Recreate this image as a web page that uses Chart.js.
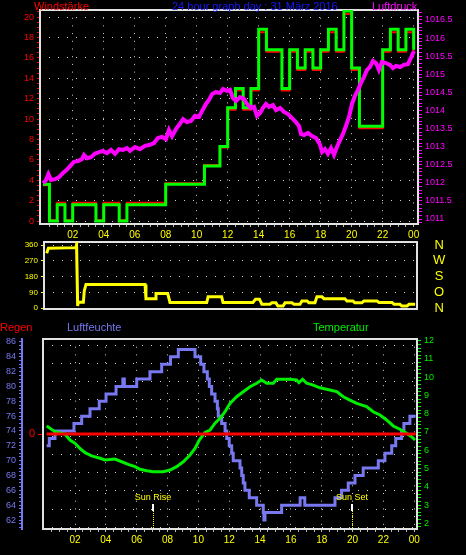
<!DOCTYPE html>
<html>
<head>
<meta charset="utf-8">
<title>24 hour graph day : 31 März 2016</title>
<script src="https://cdn.jsdelivr.net/npm/chart.js@4.4.1/dist/chart.umd.min.js"></script>
<style>
  body { margin: 0; background: #000; }
  #page { position: relative; width: 466px; height: 555px; background: #000; overflow: hidden;
          font-family: 'Liberation Sans', Arial, sans-serif; }
  #page canvas { position: absolute; left: 0; }
  .lbl { position: absolute; font-size: 11px; line-height: 12px; white-space: nowrap; }
</style>
</head>
<body>
<div id="page">
  <canvas id="top" width="466" height="248" style="top:0"></canvas>
  <canvas id="mid" width="466" height="80" style="top:236px"></canvas>
  <canvas id="bot" width="466" height="218" style="top:337px"></canvas>
  <div class="lbl" style="left:34px;top:0;color:#ff0000">Windstärke</div>
  <div class="lbl" style="left:172px;top:0;color:#1818ff">24 hour graph day : 31 März 2016</div>
  <div class="lbl" style="left:372px;top:0;color:#ff00ff">Luftdruck</div>
  <div class="lbl" style="left:0;top:321px;color:#ff0000">Regen</div>
  <div class="lbl" style="left:67px;top:321px;color:#7878f0">Luftfeuchte</div>
  <div class="lbl" style="left:313px;top:321px;color:#00ee00">Temperatur</div>
</div>
<script>
var FONT = "'Liberation Sans', Arial, sans-serif";
var GRID = '#d0d0d0';
var FRAME = '#e2e2e2';
var CLEAR = 'rgba(0,0,0,0)';

// x axis (hours)
var hourTicks = [2, 4, 6, 8, 10, 12, 14, 16, 18, 20, 22, 24];
var hourLabels = ['02', '04', '06', '08', '10', '12', '14', '16', '18', '20', '22', '00'];

// wind, half-hour values (green = gusts, red = mean)
var windTimes = [0.08, 0.5, 1, 1.5, 2, 2.5, 3, 3.5, 4, 4.5, 5, 5.5, 6, 6.5, 7, 7.5, 8, 8.5, 9, 9.5,
  10, 10.5, 11, 11.5, 12, 12.5, 13, 13.5, 14, 14.5, 15, 15.5, 16, 16.5, 17, 17.5, 18, 18.5, 19, 19.5,
  20, 20.5, 21, 21.5, 22, 22.5, 23, 23.5, 24];
var windGust = [3.6, 0, 1.6, 0, 1.6, 1.6, 1.6, 0, 1.6, 1.6, 0, 1.6, 1.6, 1.6, 1.6, 1.6, 3.6, 3.6, 3.6, 3.6,
  3.6, 5.4, 5.4, 7.3, 11.1, 13.0, 11.1, 13.0, 18.8, 16.8, 16.8, 13.0, 16.8, 15.0, 16.8, 15.0, 16.8, 18.8, 16.8, 20.6,
  15.0, 9.3, 9.3, 9.3, 16.8, 18.8, 16.8, 18.8, 16.8];
var windAvg = [3.5, 0.1, 1.8, 0.1, 1.8, 1.8, 1.8, 0.1, 1.8, 1.8, 0.1, 1.8, 1.8, 1.8, 1.8, 1.8, 3.7, 3.7, 3.7, 3.7,
  3.7, 5.5, 5.5, 7.2, 10.9, 12.8, 10.9, 12.8, 18.5, 16.6, 16.6, 12.8, 16.6, 14.8, 16.6, 14.8, 16.6, 18.5, 16.6, 20.3,
  14.8, 9.1, 9.1, 9.1, 16.6, 18.5, 16.6, 18.5, 16.6];
var windTicks = [0, 2, 4, 6, 8, 10, 12, 14, 16, 18, 20];

// air pressure
var pressTimes = [0.10, 0.28, 0.43, 0.6, 0.86, 1.12, 1.37, 1.6, 1.83, 2.08,
  2.34, 2.6, 2.73, 2.92, 3.18, 3.44, 3.7, 3.95, 4.21, 4.47,
  4.73, 4.99, 5.25, 5.5, 5.7, 6.02, 6.34, 6.66, 6.99, 7.24,
  7.5, 7.76, 8.02, 8.21, 8.41, 8.67, 8.92, 9.12, 9.37, 9.63,
  9.89, 10.15, 10.34, 10.6, 10.79, 10.99, 11.24, 11.5, 11.7, 11.95,
  12.15, 12.34, 12.54, 12.79, 13.05, 13.25, 13.5, 13.7, 13.89, 14.09,
  14.28, 14.47, 14.67, 14.92, 15.12, 15.38, 15.63, 15.89, 16.15, 16.4,
  16.6, 16.73, 16.92, 17.18, 17.44, 17.7, 17.96, 18.09, 18.28, 18.47,
  18.67, 18.86, 19.05, 19.25, 19.44, 19.63, 19.83, 20.02, 20.21, 20.41,
  20.6, 20.79, 20.99, 21.18, 21.37, 21.57, 21.76, 21.95, 22.21, 22.47,
  22.66, 22.86, 23.12, 23.37, 23.63, 23.82, 24.02];
var pressValues = [1011.99, 1012.08, 1012.24, 1012.08, 1012.1, 1012.16, 1012.27, 1012.35, 1012.46, 1012.58,
  1012.6, 1012.66, 1012.77, 1012.68, 1012.71, 1012.81, 1012.85, 1012.88, 1012.82, 1012.91,
  1012.8, 1012.93, 1012.91, 1012.96, 1012.88, 1012.99, 1012.93, 1013.02, 1013.05, 1013.1,
  1013.24, 1013.27, 1013.21, 1013.46, 1013.29, 1013.49, 1013.63, 1013.76, 1013.68, 1013.71,
  1013.85, 1013.82, 1013.98, 1014.18, 1014.29, 1014.45, 1014.51, 1014.48, 1014.59, 1014.54,
  1014.57, 1014.34, 1014.26, 1014.37, 1014.32, 1014.18, 1014.07, 1014.1, 1013.85, 1013.93,
  1014.07, 1014.18, 1014.1, 1014.15, 1014.01, 1014.07, 1013.96, 1013.9, 1013.79, 1013.68,
  1013.57, 1013.35, 1013.32, 1013.38, 1013.29, 1013.24, 1013.05, 1012.85, 1012.93, 1012.8,
  1012.96, 1012.77, 1012.99, 1013.18, 1013.35, 1013.57, 1013.82, 1014.18, 1014.4, 1014.57,
  1014.76, 1014.92, 1015.12, 1015.2, 1015.37, 1015.31, 1015.12, 1015.34, 1015.31, 1015.26,
  1015.17, 1015.23, 1015.2, 1015.26, 1015.28, 1015.45, 1015.64];
var pressTicks = [1011, 1011.5, 1012, 1012.5, 1013, 1013.5, 1014, 1014.5, 1015, 1015.5, 1016, 1016.5];
var pressLabels = ['1011', '1011.5', '1012', '1012.5', '1013', '1013.5', '1014', '1014.5', '1015', '1015.5', '1016', '1016.5'];

// wind direction
var dirTimes = [0.16, 0.27, 2.06, 2.1, 2.17, 2.21, 2.54, 2.6, 2.71, 6.54,
  6.6, 7.19, 7.25, 8.01, 8.16, 10.54, 10.63, 11.51, 11.6, 13.54,
  13.71, 13.96, 14.12, 14.64, 14.77, 15.03, 15.16, 15.49, 15.62, 16.07,
  16.2, 16.59, 16.72, 17.05, 17.17, 17.56, 17.69, 18.02, 18.14, 19.5,
  19.64, 20.02, 20.15, 20.6, 20.74, 21.58, 21.71, 22.56, 22.69, 23.07,
  23.2, 23.53, 23.66, 24.06];
var dirValues = [313, 341, 345, 362, 13, 34, 34, 100, 135, 135,
  55, 55, 84, 84, 33, 33, 65, 65, 33, 33,
  52, 52, 23, 23, 31, 31, 13, 13, 31, 31,
  23, 23, 42, 42, 31, 31, 65, 65, 55, 55,
  42, 42, 31, 31, 42, 42, 33, 33, 23, 23,
  13, 13, 23, 23];
var dirTicks = [0, 90, 180, 270, 360];
var compassLabels = ['N', 'O', 'S', 'W', 'N'];

// humidity
var humTimes = [0.16, 0.33, 0.7, 1.93, 2.43, 2.97, 3.57, 4.01, 4.66, 5.1,
  5.2, 6.0, 6.86, 7.62, 8.19, 8.7, 9.78, 10.15, 10.36, 10.58,
  10.71, 10.86, 11.08, 11.23, 11.29, 11.51, 11.73, 11.84, 12.0, 12.16,
  12.26, 12.7, 12.81, 12.91, 13.02, 13.3, 13.78, 14.21, 14.25, 14.32,
  15.4, 16.6, 16.9, 18.86, 19.29, 19.72, 20.16, 20.69, 21.67, 22.1,
  22.54, 22.8, 23.18, 23.33, 23.72, 24.09];
var humValues = [72, 73, 74, 75, 76, 77, 78, 79, 80, 81,
  80, 81, 82, 83, 84, 85, 84, 83, 82, 81,
  80, 79, 78, 77, 76, 75, 74, 73, 72, 71,
  70, 69, 68, 67, 66, 65, 64, 63, 62, 63,
  64, 65, 64, 65, 66, 67, 68, 69, 70, 71,
  72, 73, 74, 75, 76, 76];
var humTicks = [62, 64, 66, 68, 70, 72, 74, 76, 78, 80, 82, 84, 86];

// temperature
var tempTimes = [0.16, 0.7, 1.35, 1.67, 2.0, 2.32, 2.65, 3.08, 3.62, 3.94,
  4.27, 4.59, 5.03, 5.45, 5.89, 6.21, 6.65, 7.08, 7.72, 8.16,
  8.59, 9.02, 9.46, 9.78, 10.06, 10.43, 10.76, 11.08, 11.4, 11.73,
  12.05, 12.48, 12.91, 13.35, 13.78, 14.1, 14.43, 14.86, 15.08, 15.94,
  16.37, 16.52, 16.76, 17.02, 17.45, 17.89, 18.53, 18.97, 19.4, 19.83,
  20.27, 20.91, 21.34, 21.78, 22.21, 22.64, 23.07, 23.51, 23.83, 24.05];
var tempValues = [7.33, 7.02, 6.89, 6.56, 6.38, 6.1, 5.87, 5.69, 5.56, 5.47,
  5.5, 5.52, 5.37, 5.23, 5.1, 4.96, 4.88, 4.83, 4.83, 4.92,
  5.1, 5.37, 5.74, 6.1, 6.56, 6.98, 7.11, 7.48, 7.75, 8.11,
  8.57, 8.93, 9.2, 9.48, 9.67, 9.85, 9.67, 9.67, 9.89, 9.89,
  9.85, 9.7, 9.89, 9.67, 9.57, 9.42, 9.3, 9.21, 8.93, 8.75,
  8.57, 8.39, 8.11, 7.93, 7.66, 7.33, 7.15, 6.93, 6.74, 6.56];
var tempTicks = [2, 3, 4, 5, 6, 7, 8, 9, 10, 11, 12];

// rain
var rainTimes = [0.16, 24.1];
var rainValues = [0, 0];
var rainTicks = [0];

// sun
var sunNames = ['Sun Rise', 'Sun Set'];
var sunTimes = [7.08, 19.98];

Chart.defaults.font.family = FONT;
Chart.defaults.color = '#ffffff';

function steps(lo, hi, step) {
  var out = [];
  for (var v = lo; v <= hi + 1e-9; v += step) out.push({ value: Math.round(v * 1000) / 1000 });
  return out;
}
function idx(v, vals) {
  for (var i = 0; i < vals.length; i++) if (Math.abs(vals[i] - v) < 1e-6) return i;
  return -1;
}
function pts(xs, ys) {
  return xs.map(function (x, i) { return { x: x, y: ys[i] }; });
}
function fixW(w) {
  return function (s) { s.width = w; s.paddingTop = 0; s.paddingBottom = 0; };
}
function fixH(h) {
  return function (s) { s.height = h; s.paddingLeft = 0; s.paddingRight = 0; };
}
function onMajor(vals) {
  return function (c) { return (c.tick && idx(c.tick.value, vals) >= 0) ? GRID : CLEAR; };
}

function hourAxis(min, max, h) {
  return {
    type: 'linear', min: min, max: max, display: h > 0,
    afterBuildTicks: function (s) { s.ticks = steps(0.5, 24, 0.5); },
    afterFit: fixH(h),
    ticks: {
      color: '#ffff00', font: { size: 10 }, padding: 2, autoSkip: false, maxRotation: 0, minRotation: 0,
      callback: function (v) { var i = idx(v, hourTicks); return i < 0 ? '' : hourLabels[i]; }
    },
    grid: { color: onMajor(hourTicks), tickColor: '#b8b8b8', tickLength: 3, lineWidth: 1 },
    border: { display: false, dash: [1, 6.7] }
  };
}

var framePlugin = {
  id: 'frame',
  beforeDatasetsDraw: function (chart) {
    var a = chart.chartArea, ctx = chart.ctx;
    ctx.save();
    ctx.strokeStyle = FRAME;
    ctx.lineWidth = 2;
    ctx.strokeRect(a.left, a.top, a.right - a.left, a.bottom - a.top);
    ctx.restore();
  }
};

var sunPlugin = {
  id: 'sun',
  afterDatasetsDraw: function (chart) {
    var a = chart.chartArea, ctx = chart.ctx, xs = chart.scales.x;
    ctx.save();
    ctx.font = '9px ' + FONT;
    ctx.textAlign = 'center';
    ctx.textBaseline = 'middle';
    sunTimes.forEach(function (t, i) {
      var px = Math.round(xs.getPixelForValue(t));
      ctx.strokeStyle = '#ffffff';
      ctx.lineWidth = 2;
      ctx.setLineDash([]);
      ctx.beginPath(); ctx.moveTo(px, a.bottom - 25); ctx.lineTo(px, a.bottom - 18); ctx.stroke();
      ctx.strokeStyle = '#ffff00';
      ctx.lineWidth = 1;
      ctx.setLineDash([1, 1]);
      ctx.beginPath(); ctx.moveTo(px + 0.5, a.bottom - 18); ctx.lineTo(px + 0.5, a.bottom); ctx.stroke();
      ctx.fillStyle = '#ffff00';
      ctx.fillText(sunNames[i], px, a.bottom - 31.5);
    });
    ctx.restore();
  }
};

var common = {
  responsive: false, animation: false, devicePixelRatio: 1,
  plugins: { legend: { display: false }, tooltip: { enabled: false } },
  elements: { point: { radius: 0 }, line: { tension: 0, fill: false } }
};

// top: wind + pressure
new Chart(document.getElementById('top'), {
  type: 'line',
  data: {
    datasets: [
      { data: pts(pressTimes, pressValues), yAxisID: 'yp', borderColor: '#ff00ff', borderWidth: 4 },
      { data: pts(windTimes, windGust), yAxisID: 'yw', borderColor: '#00ff00', borderWidth: 3, stepped: true },
      { data: pts(windTimes, windAvg), yAxisID: 'yw', borderColor: '#ff0000', borderWidth: 2, stepped: true }
    ]
  },
  options: Object.assign({}, common, {
    layout: { padding: { top: 10, left: 0, right: 0, bottom: 0 } },
    scales: {
      x: hourAxis(-0.11, 24.28, 24),
      yw: {
        position: 'left', min: -0.29, max: 20.69,
        afterBuildTicks: function (s) { s.ticks = steps(0, 20.5, 0.5); },
        afterFit: fixW(40),
        ticks: { color: '#ff0000', font: { size: 9 }, padding: 3, autoSkip: false,
          callback: function (v) { return idx(v, windTicks) < 0 ? '' : String(v); } },
        grid: { color: onMajor(windTicks), tickColor: '#ff0000', tickLength: 3 },
        border: { display: false, dash: [1, 8] }
      },
      yp: {
        position: 'right', min: 1010.862, max: 1016.776,
        afterBuildTicks: function (s) { s.ticks = steps(1010.9, 1016.7, 0.1); },
        afterFit: fixW(48),
        ticks: { color: '#ff00ff', font: { size: 9 }, padding: 3, autoSkip: false,
          callback: function (v) { var i = idx(v, pressTicks); return i < 0 ? '' : pressLabels[i]; } },
        grid: { drawOnChartArea: false, tickColor: '#ff00ff', tickLength: 4 },
        border: { display: false }
      }
    }
  }),
  plugins: [framePlugin]
});

// middle: wind direction
new Chart(document.getElementById('mid'), {
  type: 'line',
  data: {
    datasets: [
      { data: pts(dirTimes, dirValues), yAxisID: 'yd', borderColor: '#ffff00', borderWidth: 3 }
    ]
  },
  options: Object.assign({}, common, {
    layout: { padding: { top: 6, left: 0, right: 0, bottom: 7 } },
    scales: {
      x: hourAxis(-0.013, 24.18, 0),
      yd: {
        position: 'left', min: -4, max: 377.1,
        afterBuildTicks: function (s) { s.ticks = dirTicks.map(function (v) { return { value: v }; }); },
        afterFit: fixW(44),
        ticks: { color: '#ffff00', font: { size: 8 }, padding: 3, autoSkip: false },
        grid: { color: GRID, tickColor: '#ffff00', tickLength: 3 },
        border: { display: false, dash: [1, 8] }
      },
      yc: {
        position: 'right', min: -4, max: 377.1,
        afterBuildTicks: function (s) { s.ticks = dirTicks.map(function (v) { return { value: v }; }); },
        afterFit: fixW(49),
        ticks: { color: '#ffff00', font: { size: 13 }, padding: 16, crossAlign: 'center', autoSkip: false,
          callback: function (v) { return compassLabels[idx(v, dirTicks)]; } },
        grid: { drawOnChartArea: false, drawTicks: false },
        border: { display: false }
      }
    }
  }),
  plugins: [framePlugin]
});

// bottom: rain, humidity, temperature
new Chart(document.getElementById('bot'), {
  type: 'line',
  data: {
    datasets: [
      { data: pts(rainTimes, rainValues), yAxisID: 'yr', borderColor: '#ff0000', borderWidth: 3 },
      { data: pts(tempTimes, tempValues), yAxisID: 'yt', borderColor: '#00ee00', borderWidth: 3 },
      { data: pts(humTimes, humValues), yAxisID: 'yh', borderColor: '#7878f0', borderWidth: 3, stepped: true }
    ]
  },
  options: Object.assign({}, common, {
    layout: { padding: { top: 2, left: 0, right: 0, bottom: 0 } },
    scales: {
      x: hourAxis(-0.078, 24.18, 26),
      yh: {
        position: 'left', weight: 1, min: 60.79, max: 86.4,
        afterBuildTicks: function (s) { s.ticks = steps(61, 86, 0.5); },
        afterFit: fixW(22),
        ticks: { color: '#7878f0', font: { size: 9 }, padding: 3, autoSkip: false,
          callback: function (v) { return idx(v, humTicks) < 0 ? '' : String(v); } },
        grid: { drawOnChartArea: false, tickColor: '#7878f0', tickLength: 3 },
        border: { display: true, color: '#7878f0', width: 2 }
      },
      yr: {
        position: 'left', weight: 0, min: -1, max: 1,
        afterBuildTicks: function (s) { s.ticks = rainTicks.map(function (v) { return { value: v }; }); },
        afterFit: fixW(21),
        ticks: { color: '#ff0000', font: { size: 11 }, padding: 3, autoSkip: false },
        grid: { drawOnChartArea: false, tickColor: '#ff0000', tickLength: 5 },
        border: { display: false }
      },
      yt: {
        position: 'right', weight: 0, min: 1.688, max: 12.093,
        afterBuildTicks: function (s) { s.ticks = steps(1.8, 12, 0.2); },
        afterFit: fixW(49),
        ticks: { color: '#00ee00', font: { size: 9 }, padding: 3, autoSkip: false,
          callback: function (v) { return idx(v, tempTicks) < 0 ? '' : String(v); } },
        grid: { drawOnChartArea: false, tickColor: '#00ee00', tickLength: 4 },
        border: { display: false }
      },
      yg: {
        position: 'right', weight: 2, min: 0, max: 10.42,
        afterBuildTicks: function (s) { s.ticks = steps(0.09, 10.09, 1); },
        afterFit: fixW(0),
        ticks: { display: false },
        grid: { color: GRID, drawTicks: false },
        border: { display: false, dash: [1, 8] }
      }
    }
  }),
  plugins: [framePlugin, sunPlugin]
});
</script>
</body>
</html>
